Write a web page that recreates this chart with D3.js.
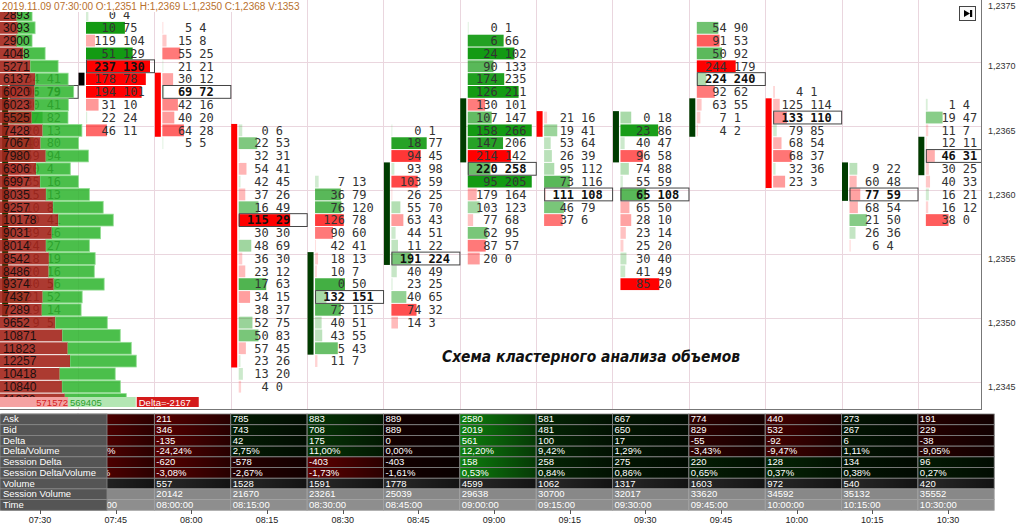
<!DOCTYPE html>
<html>
<head>
<meta charset="utf-8">
<script src="https://cdn.jsdelivr.net/npm/d3@7"></script>
<style>
  body { margin: 0; background: #fff; }
  svg { display: block; font-family: "Liberation Sans", Arial, sans-serif; }
  .cl text { font-family: "DejaVu Sans Mono", monospace; font-size: 12px; fill: #333; }
  .cl text.poc { font-weight: bold; fill: #111; }
  .tb text { font-size: 9.5px; fill: #fff; }
</style>
</head>
<body>
<svg id="chart" width="1024" height="525"></svg>
<script>

// 15 minute bars
const times  = ["07:30","07:45","08:00","08:15","08:30","08:45","09:00","09:15","09:30","09:45","10:00","10:15","10:30"];
const opens  = [1.2351,1.2369,1.2369,1.2365,1.2348,1.2355,1.2363,1.2366,1.2363,1.2365,1.2367,1.2360,1.2362];
const closes = [1.2368,1.2369,1.2365,1.2347,1.2355,1.2362,1.2367,1.2365,1.2366,1.2367,1.2361,1.2362,1.2364];

// top price level of every cluster, then bid / ask per level going down one tick at a time
const topPrice = [1.2369,1.2374,1.2373,1.2365,1.2361,1.2365,1.2373,1.2366,1.2366,1.2373,1.2368,1.2362,1.2367];
const bids = [
  [34,96,30,27,20,40,59,20,35,15,10,30,39,24,18,20,40,21,19,9],
  [0,10,119,51,237,178,194,31,22,46],
  [5,15,55,21,30,69,42,40,64,5],
  [0,22,32,54,42,37,16,115,30,48,36,23,17,34,38,52,50,57,23,13,4],
  [7,36,76,126,90,42,18,10,0,132,72,40,43,5,11],
  [0,18,94,93,103,26,55,63,44,11,191,40,23,40,74,14],
  [0,6,24,90,174,126,130,107,158,147,214,220,95,179,103,77,62,87,20],
  [21,19,53,26,95,73,111,46,37],
  [0,23,40,96,74,55,65,65,28,23,25,30,41,85],
  [54,91,50,244,224,92,63,7,4],
  [4,125,133,79,68,68,32,23],
  [9,60,77,68,21,26,6],
  [1,19,11,12,46,30,40,16,16,38]
];
const asks = [
  [41,79,41,82,13,80,94,4,16,13,8,41,46,27,19,16,56,52,14,5],
  [4,75,104,129,130,78,101,10,24,11],
  [4,8,25,21,12,72,16,20,28,5],
  [6,53,31,41,45,26,49,29,30,69,30,12,63,15,37,75,83,45,26,20,0],
  [13,79,120,78,60,41,13,7,50,151,115,51,55,43,7],
  [1,77,45,98,59,25,70,43,51,22,224,49,25,65,32,3],
  [1,66,102,133,235,211,101,147,266,206,142,258,205,164,123,68,95,57,0],
  [16,41,64,39,112,116,108,79,6],
  [18,86,47,58,88,59,108,50,10,14,20,40,49,20],
  [90,53,92,179,240,62,55,1,2],
  [1,114,110,85,54,37,36,3],
  [22,48,59,54,50,36,4],
  [4,47,7,11,31,25,33,21,12,0]
];

// session volume profile (left side)
const profileTop = 1.2374;
const profileBid = [2893,3093,2900,4048,5271,6137,6020,6023,5525,7428,7067,7980,6306,6997,8035,9257,10178,9031,8014,8542,8486,9374,7437,7289,9652,10871,11823,12257,10418,10840,11330];
const profileAsk = [2720,3050,2710,3850,4900,5790,6880,5940,6380,6910,6680,7490,6000,6720,7610,8810,9650,8550,7630,8120,8020,8860,6950,6910,9130,10180,11160,11600,9750,10230,10780];
const totalBid = 571572, totalAsk = 569405;
const sessionStart = { volume: 16678, delta: -404 };

const priceTicks = [1.2375,1.2370,1.2365,1.2360,1.2355,1.2350,1.2345];
const tableRows = ["Ask","Bid","Delta","Delta/Volume","Session Delta","Session Delta/Volume","Volume","Session Volume","Time"];
const title = "2019.11.09 07:30:00 O:1,2351 H:1,2369 L:1,2350 C:1,2368 V:1353";
const note = "Схема кластерного анализа объемов";

const svg = d3.select("#chart");
const plotBottom = 409, axisX = 982;

let y = d3.scaleLinear().domain([1.2374, 1.2345]).range([15, 386.7]);
let rowH = y(1.2373) - y(1.2374);
let x = d3.scaleBand().domain(times).range([1.65, 994.2]);
let xt = d3.scalePoint().domain(times).range([40, 948]);
let xp = d3.scaleLinear().domain([0, 12257]).range([0, 70]);
let xtot = d3.scaleLinear().domain([0, totalBid]).range([0, 68]);
let barW = d3.scaleLinear().domain([0, 107]).range([0, 64]).clamp(true);
let barOp = d3.scaleLinear().domain([0, 65]).range([0.12, 1]).clamp(true);
let comma = (v, n) => v.toFixed(n).replace(".", ",");

let tTop = 414, tRow = 10.7, hdrW = 107;

let defs = svg.append("defs");
let shade = defs.append("linearGradient").attr("id", "shade");
shade.append("stop").attr("offset", 0).attr("stop-color", "#000").attr("stop-opacity", 0);
shade.append("stop").attr("offset", 1).attr("stop-color", "#000").attr("stop-opacity", 0.55);
defs.append("clipPath").attr("id", "plotClip")
    .append("rect").attr("width", axisX).attr("height", plotBottom);
defs.append("clipPath").attr("id", "cellClip")
    .append("rect").attr("x", hdrW).attr("y", tTop).attr("width", 1024 - hdrW).attr("height", 9 * tRow);

let plot = svg.append("g").attr("clip-path", "url(#plotClip)");

// grid
plot.append("g").selectAll("line").data(times.slice(1)).join("line")
    .attr("x1", t => Math.round(x(t)) + 0.5).attr("x2", t => Math.round(x(t)) + 0.5)
    .attr("y1", 0).attr("y2", plotBottom)
    .attr("stroke", "#ead6de");
plot.append("g").selectAll("line").data(priceTicks).join("line")
    .attr("x1", 0).attr("x2", axisX)
    .attr("y1", p => Math.round(y(p) - rowH * 0.33) + 0.5)
    .attr("y2", p => Math.round(y(p) - rowH * 0.33) + 0.5)
    .attr("stroke", "#ead6de");

// candle bodies
plot.append("g").selectAll("rect").data(times).join("rect")
    .attr("x", t => x(t) + 0.5).attr("width", 6)
    .attr("y", (t, j) => y(Math.max(opens[j], closes[j])) - rowH / 2)
    .attr("height", (t, j) => Math.abs(y(opens[j]) - y(closes[j])) + rowH)
    .attr("fill", (t, j) => closes[j] > opens[j] ? "#003c00" : closes[j] < opens[j] ? "#ff0000" : "#000");

// clusters
let clusters = times.map((t, j) => ({
  t: t,
  rows: bids[j].map((bv, i) => ({ p: topPrice[j] - i * 1e-4, bid: bv, ask: asks[j][i] }))
}));

plot.append("g").attr("class", "cl").selectAll("g").data(clusters).join("g")
  .each(function(c) {
    let g = d3.select(this), b = x(c.t);
    let poc = d3.greatestIndex(c.rows, r => r.bid + r.ask);

    g.selectAll("rect.bar").data(c.rows).join("rect")
        .attr("class", "bar")
        .attr("x", b + 8)
        .attr("y", d => y(d.p) - rowH / 2 + 0.5)
        .attr("height", rowH - 1)
        .attr("width", d => Math.max(1, barW(Math.abs(d.ask - d.bid))))
        .attr("fill", d => d.ask >= d.bid ? "#139a13" : "#ff0000")
        .attr("fill-opacity", d => barOp(Math.abs(d.ask - d.bid)));

    g.append("rect")
        .attr("x", b + 8.5).attr("y", y(c.rows[poc].p) - rowH / 2)
        .attr("width", 68).attr("height", rowH)
        .attr("fill", "none").attr("stroke", "#444");

    g.selectAll("text.b").data(c.rows).join("text")
        .attr("class", (d, i) => i === poc ? "b poc" : "b")
        .attr("x", b + 38).attr("y", d => y(d.p)).attr("dy", "0.36em")
        .attr("text-anchor", "end")
        .text(d => d.bid);
    g.selectAll("text.a").data(c.rows).join("text")
        .attr("class", (d, i) => i === poc ? "a poc" : "a")
        .attr("x", b + 45).attr("y", d => y(d.p)).attr("dy", "0.36em")
        .text(d => d.ask);
  });

// volume profile on top of the first column
let prof = plot.append("g");
let pr = profileBid.map((bv, i) => ({ p: profileTop - i * 1e-4, bid: bv, ask: profileAsk[i] }));
prof.selectAll("rect.ga").data(pr).join("rect")
    .attr("x", d => xp(d.bid)).attr("width", d => xp(d.ask))
    .attr("y", d => y(d.p) - rowH / 2 + 0.5).attr("height", rowH - 1)
    .attr("fill", "#2db52d").attr("fill-opacity", 0.86)
    .attr("stroke", "#8fdc8f").attr("stroke-width", 0.8);
prof.selectAll("rect.rb").data(pr).join("rect")
    .attr("x", 0).attr("width", d => xp(d.bid))
    .attr("y", d => y(d.p) - rowH / 2 + 0.5).attr("height", rowH - 1)
    .attr("fill", "#a3251b").attr("fill-opacity", 0.9);
prof.selectAll("text").data(pr).join("text")
    .attr("x", 3).attr("y", d => y(d.p)).attr("dy", "0.36em")
    .attr("font-size", 12).attr("fill", "#1c1010")
    .text(d => d.bid);

// totals strip
let totY = 397;
prof.append("rect").attr("x", 0).attr("y", totY).attr("width", xtot(totalBid)).attr("height", 10).attr("fill", "#f4a2a2");
prof.append("rect").attr("x", xtot(totalBid)).attr("y", totY).attr("width", xtot(totalAsk)).attr("height", 10).attr("fill", "#b3e6b3");
prof.append("text").attr("x", xtot(totalBid)).attr("y", totY + 8.5).attr("text-anchor", "end")
    .attr("font-size", 9.5).attr("fill", "#d42020").text(totalBid);
prof.append("text").attr("x", xtot(totalBid) + 2).attr("y", totY + 8.5)
    .attr("font-size", 9.5).attr("fill", "#2a9f2a").text(totalAsk);
let dx = xtot(totalBid) + xtot(totalAsk) + 1;
prof.append("rect").attr("x", dx).attr("y", totY).attr("width", 62).attr("height", 10).attr("fill", "#d41a1a");
prof.append("text").attr("x", dx + 2).attr("y", totY + 8.5)
    .attr("font-size", 9.5).attr("fill", "#fff").text("Delta=" + (totalAsk - totalBid));

// title band
let band = plot.append("rect").attr("x", 0).attr("y", 0).attr("height", 12).attr("fill", "#fff");
let tt = plot.append("text").attr("x", 2).attr("y", 9.5)
    .attr("font-size", 10).attr("fill", "#b8702c").text(title);
band.attr("width", tt.node().getComputedTextLength() + 4);

// note
plot.append("text").attr("x", 442).attr("y", 362)
    .attr("font-family", "DejaVu Sans").attr("font-weight", "bold").attr("font-style", "italic")
    .attr("font-size", 15).attr("fill", "#111")
    .attr("textLength", 298).attr("lengthAdjust", "spacingAndGlyphs")
    .text(note);

// button at top right
let btn = svg.append("g");
btn.append("rect").attr("x", 959.5).attr("y", 6.5).attr("width", 16).attr("height", 14)
    .attr("fill", "#fafafa").attr("stroke", "#444");
btn.append("path").attr("d", "M964,10L970,13.5L964,17Z").attr("fill", "#000");
btn.append("rect").attr("x", 970).attr("y", 10).attr("width", 2.2).attr("height", 7).attr("fill", "#000");

// frame and price axis
svg.append("line").attr("x1", 0).attr("x2", axisX).attr("y1", plotBottom + 0.5).attr("y2", plotBottom + 0.5).attr("stroke", "#777");
svg.append("line").attr("x1", axisX - 0.5).attr("x2", axisX - 0.5).attr("y1", 0).attr("y2", plotBottom + 1).attr("stroke", "#777");
svg.append("g").selectAll("text").data(priceTicks).join("text")
    .attr("x", 988).attr("y", p => Math.max(6, y(p))).attr("dy", "0.35em")
    .attr("font-size", 9).attr("fill", "#333")
    .text(p => comma(p, 4));

// table
let vol = [], dlt = [], sVol = [], sDlt = [];
let sv = sessionStart.volume, sd = sessionStart.delta;
times.forEach((t, j) => {
  let a = d3.sum(asks[j]), b = d3.sum(bids[j]);
  vol.push(a + b); dlt.push(a - b);
  sv += a + b; sd += a - b;
  sVol.push(sv); sDlt.push(sd);
});
let cellText = (r, j) => {
  let a = d3.sum(asks[j]), b = d3.sum(bids[j]);
  return [a, b, dlt[j], comma(dlt[j] / vol[j] * 100, 2) + "%", sDlt[j],
          comma(sDlt[j] / sVol[j] * 100, 2) + "%", vol[j], sVol[j], times[j] + ":00"][r];
};
let cellFill = (r, j) => {
  if (r === 6) return "#2a2a2a";
  if (r === 7) return "#888";
  if (r === 8) return "#8e8e8e";
  let s = r < 4 ? dlt[j] : sDlt[j], m = Math.abs(dlt[j]);
  if (s > 0) {
    let v = 20 + Math.min(1, m / 600) * 115;
    return d3.rgb(v * 0.1, v, v * 0.1);
  }
  let v = 20 + Math.min(1, m / 150) * 76;
  return d3.rgb(v, 0, 0);
};

let tb = svg.append("g").attr("class", "tb");
let cells = [];
times.forEach((t, j) => tableRows.forEach((n, r) => cells.push({ r: r, j: j })));
tb.selectAll("rect.c").data(cells).join("rect")
    .attr("x", d => x(times[d.j])).attr("y", d => tTop + d.r * tRow)
    .attr("width", x.bandwidth()).attr("height", tRow)
    .attr("fill", d => cellFill(d.r, d.j));
tb.selectAll("rect.s").data(cells.filter(d => d.r < 7)).join("rect")
    .attr("x", d => x(times[d.j])).attr("y", d => tTop + d.r * tRow)
    .attr("width", x.bandwidth()).attr("height", tRow)
    .attr("fill", "url(#shade)")
    .attr("stroke", "#7d7d7d").attr("stroke-width", 0.8);
tb.selectAll("rect.o").data(cells.filter(d => d.r >= 7)).join("rect")
    .attr("x", d => x(times[d.j])).attr("y", d => tTop + d.r * tRow)
    .attr("width", x.bandwidth()).attr("height", tRow)
    .attr("fill", "none").attr("stroke", "#a0a0a0").attr("stroke-width", 0.8);

// cell texts: the first column sits fully under the row headers
let cellTexts = tb.append("g").attr("clip-path", "url(#cellClip)");
cellTexts.selectAll("text").data(cells.filter(d => x(times[d.j]) + x.bandwidth() > hdrW + 20)).join("text")
    .attr("x", d => x(times[d.j]) + 2).attr("y", d => tTop + d.r * tRow + 8.3)
    .attr("fill", d => d.r >= 7 ? "#ececec" : "#fff")
    .text(d => cellText(d.r, d.j));

tb.selectAll("rect.h").data(tableRows).join("rect")
    .attr("x", 0).attr("y", (n, r) => tTop + r * tRow)
    .attr("width", hdrW).attr("height", tRow)
    .attr("fill", "#555").attr("stroke", "#8a8a8a").attr("stroke-width", 0.8);
tb.selectAll("text.h").data(tableRows).join("text")
    .attr("x", 3).attr("y", (n, r) => tTop + r * tRow + 8.3)
    .text(n => n);

// time axis
let xa = svg.append("g");
xa.selectAll("line").data(times).join("line")
    .attr("x1", t => Math.round(xt(t)) + 0.5).attr("x2", t => Math.round(xt(t)) + 0.5)
    .attr("y1", 510).attr("y2", 514).attr("stroke", "#555");
xa.selectAll("text").data(times).join("text")
    .attr("x", t => xt(t)).attr("y", 522.5).attr("text-anchor", "middle")
    .attr("font-size", 9).attr("fill", "#222")
    .text(t => t);

</script>
</body>
</html>
